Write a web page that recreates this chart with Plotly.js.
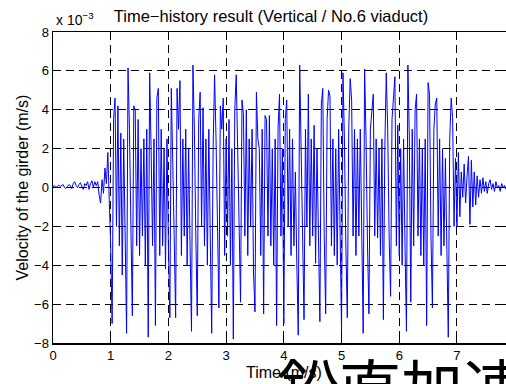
<!DOCTYPE html>
<html>
<head>
<meta charset="utf-8">
<script src="https://cdn.plot.ly/plotly-3.0.1.min.js"></script>
<style>html,body{margin:0;padding:0;background:#fff;}#chart{width:506px;height:384px;}</style>
</head>
<body>
<div id="chart"></div>
<script>
// Sampling interval of the record (s)
const sampleInterval = 0.025;
// Girder velocity, in units of 10^-3 m/s
const velocity = [
  0.05, 0.1, 0.0, 0.08, 0.12, 0.05, 0.1, 0.15, 0.0, -0.05,
  0.05, 0.15, 0.1, -0.05, 0.2, 0.3, 0.1, 0.0, 0.15, 0.25,
  0.05, -0.1, 0.2, 0.1, 0.3, -0.1, 0.2, 0.35, 0.0, 0.3,
  0.1, 0.3, -0.4, -0.8, 0.4, -0.3, 1.0, 0.2, 1.8, -0.5,
  -3.1, -7.0, 3.5, 4.6, -2.0, 4.2, -3.0, 2.8, -4.5, 2.5,
  -2.5, -7.5, 6.15, 3.0, -2.0, -6.6, 4.2, 4.0, -3.0, 3.5,
  -3.5, 2.0, -2.5, 2.5, -4.0, 3.0, -7.7, 5.9, 2.0, -3.0,
  2.5, -7.1, 4.6, 5.1, -3.5, 3.0, -3.0, 2.0, -4.2, 2.5,
  -3.0, -6.7, 5.1, 2.0, -2.5, -6.7, 5.1, 3.0, 5.5, -3.5,
  2.5, -2.5, 3.0, -4.0, 2.0, -3.0, -7.4, 6.3, 3.0, -2.5,
  -6.6, 3.5, 4.9, -2.0, 4.1, -3.0, 2.5, -4.0, 3.0, -2.5,
  -7.5, 2.0, 5.8, 2.5, -3.0, -6.2, 4.2, 3.0, 4.6, -3.5,
  2.5, -2.5, 3.5, -4.0, 2.0, -7.8, 4.0, 5.8, 2.0, -3.0,
  -5.9, 4.5, 3.8, -2.5, 4.0, -3.5, 2.5, -2.0, 3.0, -4.4,
  -6.4, 4.9, 2.5, 2.0, -3.5, 3.0, -6.5, 3.7, 3.5, -2.5,
  3.7, -3.0, 2.0, -4.0, 2.5, -7.1, 3.0, 4.8, -2.5, 2.0,
  -7.0, 3.5, 4.5, -2.0, 3.0, -3.5, 2.5, -3.0, 0.8, -3.9,
  -7.6, 6.3, 2.0, -3.0, -6.8, 3.0, -2.0, 4.8, -3.0, 2.5,
  -2.5, 3.2, -3.9, 2.0, -3.0, -6.9, 4.3, 5.1, -2.5, -6.5,
  3.5, 5.0, 4.7, -3.0, 2.5, -3.5, 2.0, -4.0, 3.0, -3.0,
  -7.4, 5.9, 2.5, -3.0, -6.7, 3.0, 5.6, 4.5, -2.5, 3.0,
  -3.5, 2.5, -2.5, 3.0, -4.0, -7.5, 6.1, 2.5, -3.0, -6.5,
  3.0, 4.2, 4.8, -2.5, 2.5, -2.6, 2.0, -3.5, 2.5, -6.8,
  2.0, 5.9, 3.0, -2.5, -5.6, 3.5, 4.9, 5.7, -3.0, 3.2,
  -3.5, 2.0, -4.0, 2.5, -3.0, -7.4, 6.3, 2.5, -5.9, 3.0,
  -3.0, 4.0, 4.8, -2.5, 2.5, -3.5, 2.0, -4.0, 2.5, -7.1,
  5.4, 4.8, -2.5, -6.2, 3.0, 4.3, 4.6, -2.5, 2.5, -3.5,
  2.0, -3.0, 1.5, -2.5, -7.7, 2.5, 4.6, 3.6, -2.0, 1.5,
  -2.0, 1.8, -1.5, 0.8, -0.5, 1.2, -0.8, 0.6, 1.6, -1.9,
  1.4, -1.0, 0.8, -0.9, 0.6, -0.5, 0.4, -0.3, 0.5, -0.2,
  0.3, -0.3, 0.2, 0.4, -0.1, 0.2, -0.2, 0.3, 0.0, 0.1, -0.2, 0.2, 0.0, 0.1, -0.1
];
const time = velocity.map((_, i) => i * sampleInterval);

const xTicks = [0, 1, 2, 3, 4, 5, 6, 7];
const yTicks = [-8, -6, -4, -2, 0, 2, 4, 6, 8];
const yTickLabels = ['\u22128', '\u22126', '\u22124', '\u22122', '0', '2', '4', '6', '8'];

const titleText = 'Time\u2212history result (Vertical / No.6 viaduct)';
const xTitle = 'Time (m/s)';
const yTitle = 'Velocity of the girder (m/s)';
const exponentText = 'x 10<sup>\u22123</sup>';
const overlayText = '鉛直加速度';

const font = 'Liberation Sans, Arial, sans-serif';

const trace = {
  x: time, y: velocity, type: 'scatter', mode: 'lines',
  line: {color: '#0000ff', width: 1},
  hoverinfo: 'skip'
};

const axisCommon = {
  showline: true, linecolor: '#000', linewidth: 1.5, mirror: 'ticks',
  ticks: 'inside', ticklen: 5, tickcolor: '#000', tickwidth: 1,
  showgrid: true, gridcolor: '#000', gridwidth: 1, griddash: '8px,5px',
  zeroline: false, tickfont: {family: font, size: 13, color: '#000'}
};

const layout = {
  width: 506, height: 384,
  margin: {l: 53, r: 0, t: 32, b: 41, pad: 0},
  paper_bgcolor: '#fff', plot_bgcolor: '#fff',
  showlegend: false,
  title: {text: titleText, font: {family: font, size: 16.5, color: '#000'},
          xref: 'container', x: 271 / 506, xanchor: 'center',
          yref: 'container', y: 1 - 16 / 384, yanchor: 'middle'},
  xaxis: Object.assign({}, axisCommon, {range: [0, 7.85], tickvals: xTicks, ticktext: xTicks.map(String)}),
  yaxis: Object.assign({}, axisCommon, {range: [-8, 8], tickvals: yTicks, ticktext: yTickLabels}),
  annotations: [
    {text: exponentText, xref: 'paper', yref: 'paper', x: 0.002, y: (343 - 30) / 311,
     xanchor: 'left', yanchor: 'bottom', showarrow: false,
     font: {family: font, size: 14, color: '#000'}},
    {text: yTitle, xref: 'paper', yref: 'paper', x: (22 - 53) / 453, y: 0.5,
     xanchor: 'center', yanchor: 'middle', textangle: -90, showarrow: false,
     font: {family: font, size: 16, color: '#000'}},
    {text: xTitle, xref: 'paper', yref: 'paper', x: (284 - 53) / 453, y: (343 - 372) / 311,
     xanchor: 'center', yanchor: 'middle', showarrow: false,
     font: {family: font, size: 16, color: '#000'}},
    {text: overlayText, xref: 'paper', yref: 'paper', x: (275 - 53) / 453, y: (343 - 338) / 311,
     xanchor: 'left', yanchor: 'top', showarrow: false,
     font: {family: 'Noto Sans CJK JP', size: 62, color: '#000'}}
  ]
};

Plotly.newPlot('chart', [trace], layout, {staticPlot: true, displayModeBar: false});
</script>
</body>
</html>
